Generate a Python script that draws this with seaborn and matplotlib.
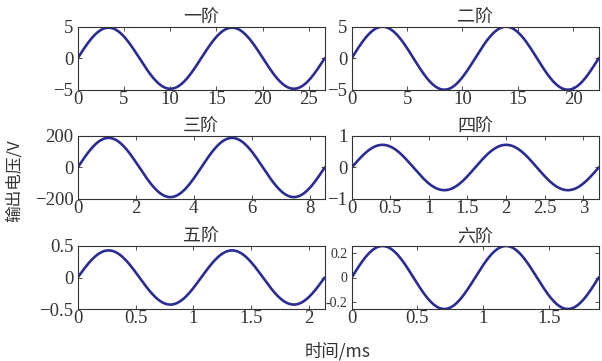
import numpy as np
import pandas as pd
import matplotlib
matplotlib.use("Agg")
import matplotlib.pyplot as plt
import seaborn as sns

# Mode order labels, amplitudes (V) and one-period durations (ms)
titles = ["一阶", "二阶", "三阶", "四阶", "五阶", "六阶"]
amplitudes = [4.85, 5.0, 188.0, 0.72, 0.43, 0.255]
periods_ms = [13.35, 11.15, 4.255, 1.60, 1.067, 0.94]
y_limits = [(-5, 5), (-5, 5), (-200, 200), (-1, 1), (-0.5, 0.5), (-0.255, 0.255)]
y_ticks = [[-5, 0, 5], [-5, 0, 5], [-200, 0, 200], [-1, 0, 1],
           [-0.5, 0, 0.5], [-0.2, 0, 0.2]]
y_ticklabels = [["\u22125", "0", "5"], ["\u22125", "0", "5"],
                ["\u2212200", "0", "200"], ["\u22121", "0", "1"],
                ["\u22120.5", "0", "0.5"], ["-0.2", "0", "0.2"]]
x_ticks = [[0, 5, 10, 15, 20, 25], [0, 5, 10, 15, 20], [0, 2, 4, 6, 8],
           [0, 0.5, 1, 1.5, 2, 2.5, 3], [0, 0.5, 1, 1.5, 2], [0, 0.5, 1, 1.5]]
x_ticklabels = [["0", "5", "10", "15", "20", "25"], ["0", "5", "10", "15", "20"],
                ["0", "2", "4", "6", "8"], ["0", "0.5", "1", "1.5", "2", "2.5", "3"],
                ["0", "0.5", "1", "1.5", "2"], ["0", "0.5", "1", "1.5"]]
n_cycles = 2

sns.set_style("ticks")
plt.rcParams["font.family"] = ["Liberation Serif", "Noto Sans CJK SC"]
plt.rcParams["xtick.direction"] = "in"
plt.rcParams["ytick.direction"] = "in"
plt.rcParams["axes.unicode_minus"] = True

fig = plt.figure(figsize=(6.02, 3.61), dpi=100)
W, H = 602, 361
col_x = [77.7, 351.7]
ax_w = 247.0
row_top = [26.7, 136.0, 246.0]
ax_h = 63.0

text_color = "#333333"
line_color = "#2b2b94"
for i in range(6):
    r, c = divmod(i, 2)
    left = col_x[c] / W
    bottom = 1 - (row_top[r] + ax_h) / H
    ax = fig.add_axes([left, bottom, ax_w / W, ax_h / H])
    span = n_cycles * periods_ms[i]
    t = np.linspace(0, span, 600)
    df = pd.DataFrame({"t": t, "v": amplitudes[i] * np.sin(2 * np.pi * t / periods_ms[i])})
    sns.lineplot(data=df, x="t", y="v", ax=ax, color=line_color, linewidth=1.9)
    ax.set_xlim(0, span)
    ax.set_ylim(*y_limits[i])
    ax.set_xticks(x_ticks[i])
    ax.set_xticklabels(x_ticklabels[i])
    ax.set_yticks(y_ticks[i])
    fs = 10 if i == 5 else 13.5
    ax.set_yticklabels(y_ticklabels[i], fontsize=fs)
    ax.tick_params(axis="x", labelsize=13.5, pad=1, length=3, width=0.6,
                   top=True, color=text_color, labelcolor=text_color)
    ax.tick_params(axis="y", pad=3, length=3, width=0.6, right=True,
                   color=text_color, labelcolor=text_color)
    ax.set_xlabel("")
    ax.set_ylabel("")
    for s in ax.spines.values():
        s.set_linewidth(0.8)
        s.set_color(text_color)
    ax.set_title(titles[i], fontsize=13, pad=3, family=["Noto Sans CJK SC"],
                 color=text_color)

fig.text(14 / W, 1 - 181 / H, "输出电压/V", rotation=90, ha="center", va="center",
         fontsize=12, family=["Noto Sans CJK SC", "Liberation Serif"], color=text_color)
fig.text(338 / W, 1 - 351 / H, "时间/ms", ha="center", va="center",
         fontsize=12.5, family=["Noto Sans CJK SC", "Liberation Serif"], color=text_color)

fig.savefig("out.png", dpi=100)
